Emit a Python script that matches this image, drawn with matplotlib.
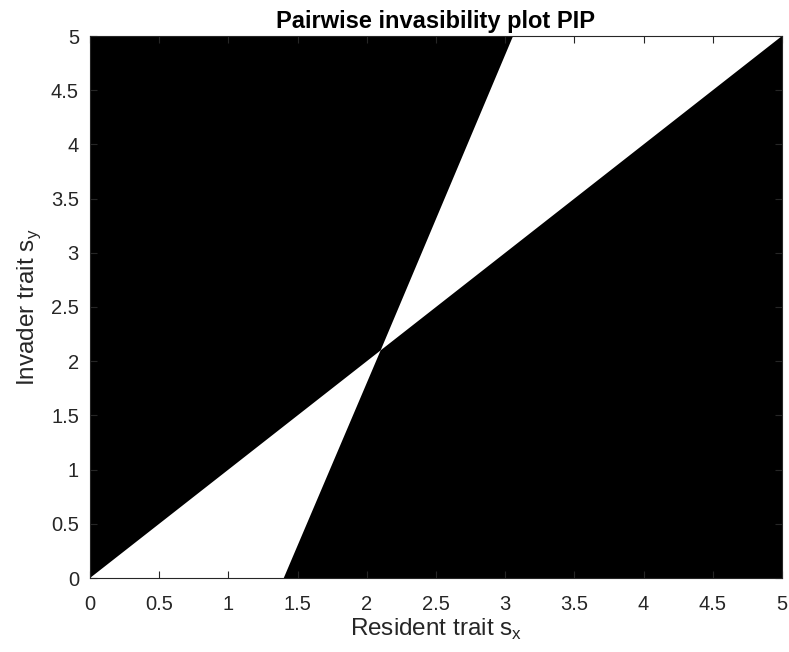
import numpy as np
import matplotlib
matplotlib.use("Agg")
import matplotlib.pyplot as plt

plt.rcParams['font.family'] = ['Liberation Sans', 'DejaVu Sans']

# singular strategy where the two boundaries cross
sing = 2.1
# boundary line (besides the diagonal), where it meets the bottom and top of the plot
bound_x = [1.40, 3.057]
bound_y = [0.0, 5.0]

# black regions (invader can invade), as polygon corners
upper_x = [0, sing, bound_x[1], 0]
upper_y = [0, sing, bound_y[1], 5]
lower_x = [sing, bound_x[0], 5, 5]
lower_y = [sing, bound_y[0], 0, 5]

ticks = np.arange(0, 5.01, 0.5)
tick_labels = ['0', '0.5', '1', '1.5', '2', '2.5', '3', '3.5', '4', '4.5', '5']

grey = (0.15, 0.15, 0.15)

fig = plt.figure(figsize=(7.89, 6.52), dpi=100)
ax = fig.add_axes([90 / 789, 1 - 578 / 652, 692 / 789, 542 / 652])

ax.fill(upper_x, upper_y, color='black', lw=0)
ax.fill(lower_x, lower_y, color='black', lw=0)

ax.set_xlim(0, 5)
ax.set_ylim(0, 5)
ax.set_xticks(ticks)
ax.set_yticks(ticks)
ax.set_xticklabels(tick_labels)
ax.set_yticklabels(tick_labels)
ax.tick_params(direction='in', length=5, width=0.8, top=True, right=True,
               labelsize=14.5, colors=grey)
ax.tick_params(axis='x', pad=12)
ax.tick_params(axis='y', pad=8)
for s in ax.spines.values():
    s.set_color(grey)
    s.set_linewidth(0.8)

ax.set_title('Pairwise invasibility plot PIP', fontsize=17, fontweight='bold',
             color='black', pad=6)
ax.set_xlabel(r'Resident trait s$_\mathregular{x}$', fontsize=17.5, color=grey, labelpad=2)
ax.set_ylabel(r'Invader trait s$_\mathregular{y}$', fontsize=17.5, color=grey, labelpad=6)

fig.savefig('out.png', dpi=100)
